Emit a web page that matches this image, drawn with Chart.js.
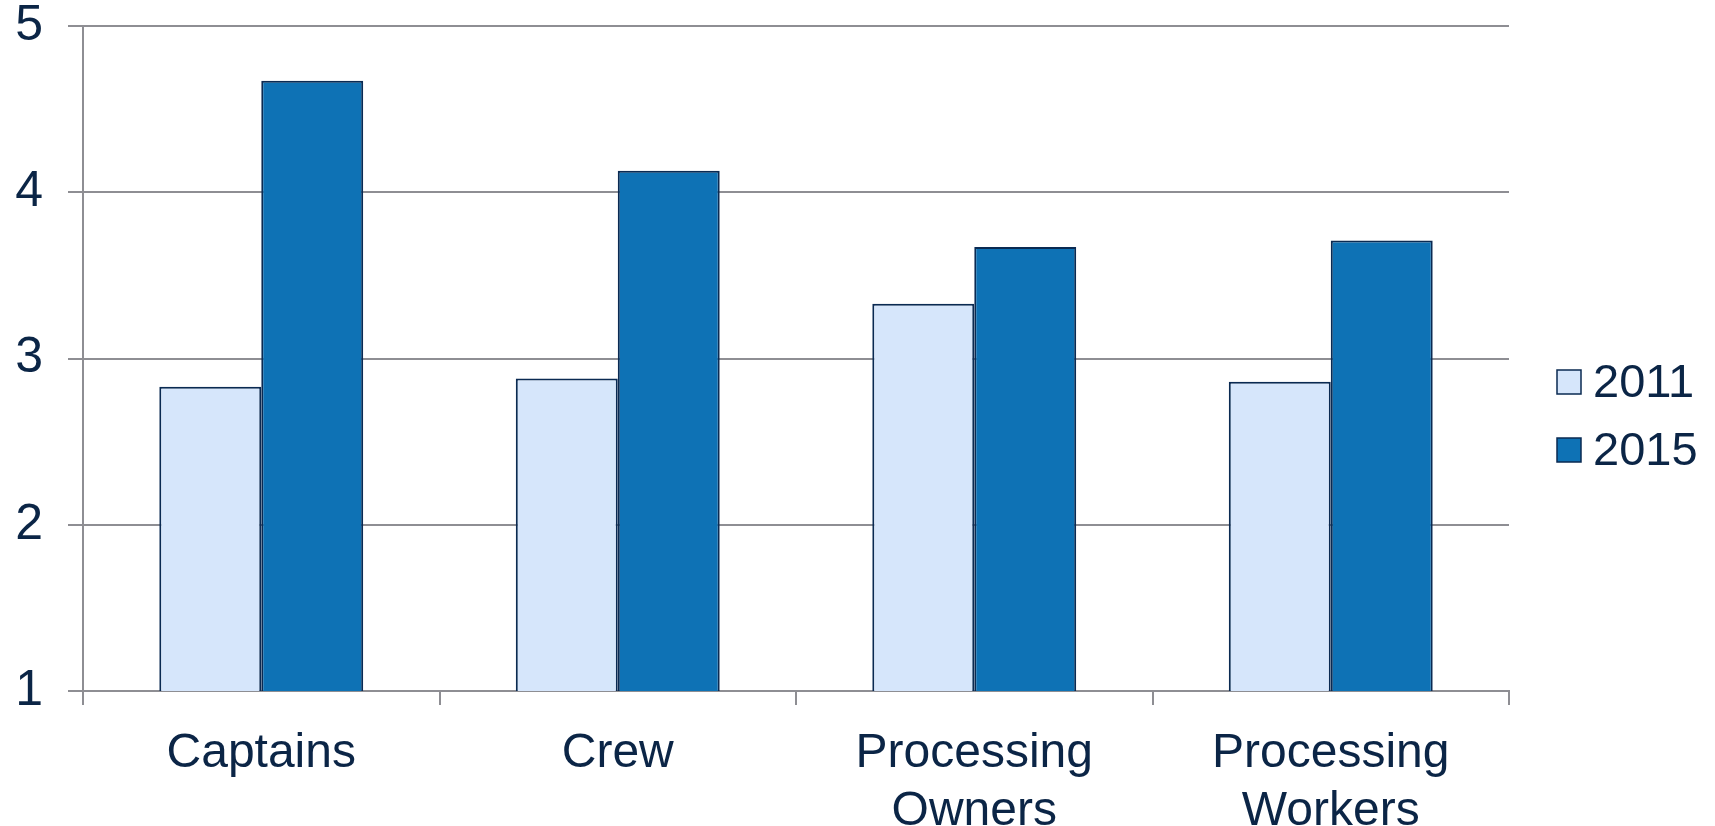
<!DOCTYPE html>
<html>
<head>
<meta charset="utf-8">
<script src="https://cdn.jsdelivr.net/npm/chart.js@4"></script>
<style>
html,body{margin:0;padding:0;background:#fff;}
#wrap{width:1715px;height:826px;position:relative;}
</style>
</head>
<body>
<div id="wrap"><canvas id="c" width="1715" height="826"></canvas></div>
<script>
const categories = [['Captains'], ['Crew'], ['Processing', 'Owners'], ['Processing', 'Workers']];
const seriesNames = ['2011', '2015'];
const values2011 = [2.83, 2.88, 3.33, 2.86];
const values2015 = [4.67, 4.13, 3.67, 3.71];
const yTicks = [1, 2, 3, 4, 5];

const TEXT = '#0b2546';
const GRID = '#8e8e93';
const FONT = '"Liberation Sans", Arial, sans-serif';
const fills = ['#d6e6fb', '#0e72b5'];
const border = '#0a2a52';

const legendPlugin = {
  id: 'customLegend',
  afterDraw(chart) {
    const ctx = chart.ctx;
    const ds = chart.data.datasets;
    const x = chart.chartArea.right + 48;
    const rowGap = 68;
    const cy = chart.height / 2 + 3;
    const startY = cy - (ds.length - 1) * rowGap / 2;
    ctx.save();
    ds.forEach((d, i) => {
      const y = startY + i * rowGap;
      ctx.fillStyle = d.backgroundColor;
      ctx.fillRect(x, y - 12, 24, 24);
      ctx.strokeStyle = d.borderColor;
      ctx.lineWidth = 1.5;
      ctx.strokeRect(x, y - 12, 24, 24);
      ctx.fillStyle = TEXT;
      ctx.font = '47px ' + FONT;
      ctx.textBaseline = 'middle';
      ctx.textAlign = 'left';
      ctx.fillText(d.label, x + 36, y + 2);
    });
    ctx.restore();
  }
};

new Chart(document.getElementById('c'), {
  type: 'bar',
  data: {
    labels: categories,
    datasets: [
      { label: seriesNames[0], data: values2011, backgroundColor: fills[0], borderColor: border, borderWidth: 2 },
      { label: seriesNames[1], data: values2015, backgroundColor: fills[1], borderColor: border, borderWidth: 2 }
    ]
  },
  options: {
    responsive: false,
    animation: false,
    devicePixelRatio: 1,
    datasets: { bar: { categoryPercentage: 0.572, barPercentage: 1.0 } },
    layout: { padding: { top: 26, right: 206, left: 0, bottom: 0 } },
    plugins: { legend: { display: false }, tooltip: { enabled: false } },
    scales: {
      x: {
        grid: { display: true, drawOnChartArea: false, drawTicks: true, tickLength: 14, color: GRID, tickColor: GRID, offset: true, lineWidth: 2 },
        border: { display: true, color: GRID, width: 2 },
        ticks: { color: TEXT, font: { family: FONT, size: 48 }, padding: 20, maxRotation: 0, autoSkip: false },
        afterFit(scale) { scale.height = 135; scale.paddingLeft = 0; scale.paddingRight = 0; }
      },
      y: {
        min: 1, max: 5,
        afterBuildTicks(scale) { scale.ticks = yTicks.map(v => ({ value: v })); },
        grid: { color: GRID, tickColor: GRID, tickLength: 15, lineWidth: 2 },
        border: { display: true, color: GRID, width: 2 },
        ticks: { color: TEXT, font: { family: FONT, size: 50 }, padding: 25 },
        afterFit(scale) { scale.width = 83; scale.paddingTop = 0; scale.paddingBottom = 0; }
      }
    }
  },
  plugins: [legendPlugin]
});
</script>
</body>
</html>
